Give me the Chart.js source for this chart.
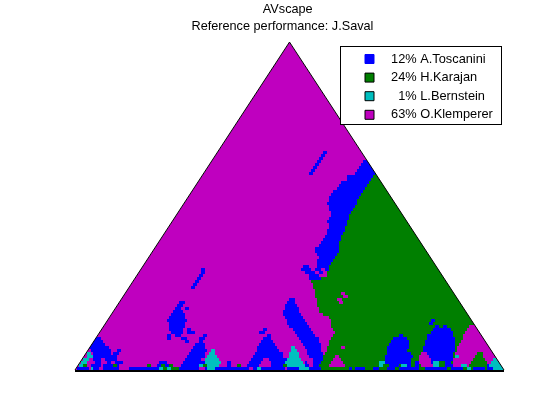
<!DOCTYPE html>
<html><head><meta charset="utf-8">
<style>html,body{margin:0;padding:0;background:#fff}#w{width:560px;height:420px}</style>
<script src="https://cdn.jsdelivr.net/npm/chart.js@4"></script></head>
<body><div id="w"><canvas id="c" width="560" height="420"></canvas></div>
<script>
const titleLines=['AVscape ','Reference performance: J.Saval    '];
const legendLabels=['   12% A.Toscanini','   24% H.Karajan','     1% L.Bernstein','   63% O.Klemperer'];
const classColors=['#0000ff','#007f00','#00bfbf','#bf00bf'];
const triangleX=[0,107.25,214.5];
const triangleY=[0,109.33,0];
const baseEdgeY=[-0.33,-0.33];
// grid: [row, firstColumn, lastColumn]; a row is one grid line up from the base
const greenStarts=[122,122,122,123,123,125,126,126,127,127,128,129,130,129,128,128,128,127,124,122,122,121,121,121,120,120,120,119,119,118,123,126,126,127,127,128,129,130,131,132,132,132,132,133,133,134,135,135,136,136,137,137,138,139,140,141,141,142,143,144,145,146,147,148,149,150];
const magentaRuns=[
[4,130,132],[3,129,133],[2,128,134],[1,127,135],
[25,133,135],[24,134,136.5],[23,131,133.5],[22,132,134],[7,133,135],
[5,173,176],[4,172,177],[3,172,178],[2,172,178],[1,173,178],
[14,197,214.5],[13,196,214.5],[12,195,214.5],[11,194,214.5],[10,194,214.5],[9,193,214.5],[8,192,214.5],[7,191,214.5],[6,191,214.5],[5,190,214.5],[4,190,214.5],[3,189,214.5],[2,189,214.5],[1,189,214.5],[1,178,180]];
const blueRuns=[
// upper thin stroke
[72,124,126],[71,123,125],[70,122,124],[69,121,123],[68,120,122],[67,119,121],[66,118,120],[65,117,119],
// main band
[69,144,148],[68,143,149],[67,142,150],[66,141,151],[65,140,150],[64,136,149],[63,136,148],[62,133,147],[61,132,146],[60,131,145],[59,129,144],[58,128,143],[57,127,142],[56,127,141],[55,126,141],[54,127,140],[53,127,139],[52,128,138],[51,128,137],[50,127,137],[49,126,136],[48,127,136],[47,127,135],[46,126,135],[45,126,134],[44,125,133],[43,124,133],[42,123,132],[41,122,132],[40,120,132],[39,120,132],[38,121,131],[37,122,130],[36,121,129],[35,121,128],
[34,114,117],[34,121,127],[33,113,118],[33,120,123],[33,125,127],[32,115,120],[32,122,124],[31,117,122],[30,117,123],
// lower diagonal band
[23,107,110],[22,106,110],[21,105,111],[20,105,112],[19,104,112],[18,104,113],[17,105,114],[16,106,115],[15,106,116],[14,107,117],[13,109,118],[12,110,119],[11,111,120],[10,112,122],[9,113,122],[8,114,123],[7,115,123],[6,116,123],[5,116,124],[4,117,124],[3,119,124],[2,119,123],[2,115,116],[1,119,122],[1,115,117],
// hump with hollow
[11,96,98],[10,94,98],[9,93,99],[8,92,100],[7,91,101],[6,91,102],[5,90,104],[4,89,104],[3,88,94],[3,97,105],[2,87,93],[2,98,106],[1,86,92],[1,98,104],[13,94,96],[12,92,95],
// blob left of centre
[22,52,55],[21,51,54],[20,50,53],[20,55,57],[19,49,54],[18,48,55],[17,47,55],[16,46,56],[15,47,55],[14,47,55],[13,47,54],[13,56,58],[12,48,54],[12,56,60],[11,46,48],[11,50,53],[10,46,48],[10,53,56],[9,55,57],
[33,63,65],[32,63,65],[31,62,64],[30,61,63],[29,60,62],[28,59,61],[27,58,60],
// left corner hump
[10,10,13],[9,9,14],[8,8,15],[7,7,17],[6,8,18],[6,21,23],[5,9,18],[5,19,22],[4,9,21],[3,9,13],[3,15,21],[2,10,13],[2,16,18],[2,20,24],[1,14,22],[1,8,13],
// hump with cyan neighbour
[11,64,66],[10,62,65],[9,62,64],[8,60,65],[7,59,65],[6,58,66],[5,57,65],[4,56,65],[3,55,63],[2,54,62],[2,62,65],[1,53,62],[2,76,78],[1,76,78],[2,42,46],[1,41,47],
// bottom strip
[0,1,7],[0,9,12],[0,14,22],[0,27,42],[0,52,62],[0,65,87],[0,89,91],[0,93,105],[0,106,112],[0,117,123],[0,137,138.5],[0,140,145],[0,149,152],[0,156,160],[0,162,172],[0,175,186],[0,188,194],[0,199,205],[0,206,209],
[1,102,105],[2,102,105],[3,102,106],[4,102,104],
// humps in the green area
[11,162,164],[10,159,166],[9,158,167],[8,157,167],[7,156,167],[6,156,166],[5,156,168],[4,155,169],[3,155,168],[2,155,168],[2,170,172],[1,155,162],[1,166,172],
[16,178,180],[15,177,179],
[14,180,182],[14,184,186],[13,179,188],[12,178,189],[11,176,189],[10,176,190],[9,175,190],[8,175,190],[7,174,190],[6,174,190],[5,176,189],[4,177,189],[3,178,189],[2,178,188],[1,180,189],
[1,206,208]];
const cyanRuns=[
[5,6,8],[4,6,9],[3,4,7],[2,3,6],[1,2,4],[0,8,9],
[6,68,70],[5,67,70],[4,66,71],[3,65,72],[2,65,73],[1,65,72],[1,62,64],[0,66,70],
[7,108,110],[6,108,111],[5,107,112],[4,107,112],[3,106,113],[2,105,114],[1,105,115],[0,112,117],
[0,42,44],[0,46,48],[0,91,93],
[2,152,155],[1,152,155],[1,163,166],[2,179,182],[1,179,182],[4,190,192],[1,193,196],[0,196,198],
[3,209,211],[2,208,212],[1,207,214],[0,209,214.5]];
const greenSpots=[
[1,4,6],[1,19,21],[1,36,38],[1,43,45],[1,47,49],[1,64,66],[1,81,83],[1,104,106],[0,44,46],[0,48,52],
[1,154,157],[1,168,170],[2,182,185],[1,182,185],
[5,201,204],[4,200,204],[3,199,205],[2,198,206],[1,197,206]];

function bars(runs,color,label,order){
  return {type:'bar',indexAxis:'y',label,order,clip:false,grouped:false,barThickness:3,
    backgroundColor:color,borderWidth:0,inflateAmount:0,
    data:runs.map(r=>({y:r[0]+0.5,x:[r[1],r[2]]}))};
}
function line(xs,ys,extra){
  return Object.assign({type:'line',clip:false,pointRadius:0,tension:0,borderWidth:0,
    data:xs.map((x,i)=>({x,y:ys[i]}))},extra);
}
const greenRuns=greenStarts.map((c,r)=>[r,c,214.5]);
const datasets=[
 line(triangleX,triangleY,{label:'base',order:9,fill:'origin',backgroundColor:classColors[3]}),
 bars(greenRuns,classColors[1],'green',8),
 bars(magentaRuns,classColors[3],'magenta',7),
 bars(blueRuns,classColors[0],'blue',6),
 bars(cyanRuns,classColors[2],'cyan',5),
 bars(greenSpots,classColors[1],'spots',4),
 line(triangleX.slice(0,2),triangleY.slice(0,2),{label:'maskL',order:3,fill:'end',backgroundColor:'#fff'}),
 line(triangleX.slice(1),triangleY.slice(1),{label:'maskR',order:3,fill:'end',backgroundColor:'#fff'}),
 line(triangleX,triangleY,{label:'edge',order:2,fill:false,borderColor:'#000',borderWidth:1}),
 line([triangleX[0],triangleX[2]],baseEdgeY,{label:'basedge',order:1,fill:false,borderColor:'#000',borderWidth:2})
];
const legendBox={
 id:'legendBox',
 afterLayout(chart){const l=chart.legend;l.left=359.2;l.right=501;l.top=46.8;l.bottom=400;},
 afterDraw(chart){const g=chart.ctx;g.save();g.fillStyle='#fff';g.strokeStyle='#000';g.lineWidth=1;
  g.fillRect(340.5,46.5,161,78);g.strokeRect(340.5,46.5,161,78);g.restore();chart.legend.draw();}
};
Chart.defaults.font.family='"Liberation Sans"';
new Chart(document.getElementById('c'),{
 type:'bar',
 data:{datasets},
 plugins:[legendBox],
 options:{responsive:false,animation:false,events:[],
  layout:{padding:{left:75,right:56,top:0,bottom:50}},
  scales:{x:{type:'linear',offset:false,display:false,min:0,max:214.5},y:{type:'linear',offset:false,display:false,min:0,max:110}},
  plugins:{
   tooltip:{enabled:false},
   title:{display:true,text:titleLines,color:'#000',padding:{top:1,bottom:5},font:{size:12.7,weight:'normal',lineHeight:1.34}},
   legend:{position:'chartArea',align:'start',labels:{boxWidth:9,boxHeight:9,color:'#000',padding:5.8,font:{size:12.8},
    generateLabels:()=>legendLabels.map((t,i)=>({text:t,fillStyle:classColors[i],strokeStyle:i==0?classColors[0]:'#000',lineWidth:1,datasetIndex:i}))}}
  }}
});
</script></body></html>
